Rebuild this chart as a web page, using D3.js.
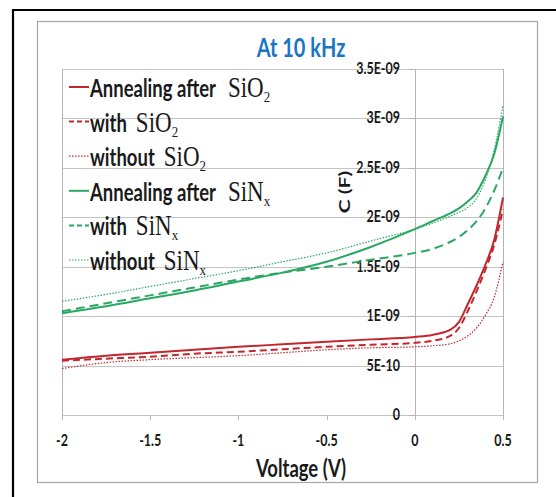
<!DOCTYPE html>
<html><head><meta charset="utf-8">
<script src="https://cdn.jsdelivr.net/npm/d3@7"></script>
<style>html,body{margin:0;padding:0;background:#fff;}svg{display:block;}</style>
</head><body>
<svg id="c" width="556" height="497"></svg>
<script>
// ---- data (C in units of 1e-9 F) ----
const voltages = [-2,-1.75,-1.5,-1.25,-1,-0.75,-0.5,-0.25,0,0.1,0.2,0.25,0.3,0.35,0.4,0.45,0.5];
const annealSiO2   = [0.56,0.60,0.63,0.66,0.69,0.715,0.74,0.765,0.79,0.81,0.86,0.94,1.12,1.31,1.52,1.77,2.20];
const withSiO2     = [0.55,0.57,0.59,0.62,0.64,0.665,0.69,0.71,0.73,0.75,0.80,0.88,1.05,1.25,1.47,1.72,2.08];
const withoutSiO2  = [0.47,0.53,0.56,0.58,0.60,0.63,0.66,0.68,0.69,0.70,0.72,0.75,0.80,0.88,1.01,1.19,1.55];
const annealSiNx   = [1.03,1.10,1.18,1.26,1.35,1.44,1.55,1.70,1.88,1.96,2.04,2.09,2.16,2.25,2.42,2.64,3.02];
const withSiNx     = [1.05,1.13,1.21,1.29,1.37,1.44,1.50,1.57,1.64,1.68,1.75,1.80,1.87,1.96,2.09,2.27,2.50];
const withoutSiNx  = [1.15,1.22,1.30,1.38,1.46,1.55,1.64,1.76,1.88,1.94,2.01,2.05,2.10,2.19,2.38,2.68,3.13];
const xTicks = [-2,-1.5,-1,-0.5,0,0.5];
const xTickLabels = ["-2","-1.5","-1","-0.5","0","0.5"];
const yTicks = [0,0.5e-9,1e-9,1.5e-9,2e-9,2.5e-9,3e-9,3.5e-9];
const yTickLabels = ["0","5E-10","1E-09","1.5E-09","2E-09","2.5E-09","3E-09","3.5E-09"];
const legendMain = ["Annealing after","with","without","Annealing after","with","without"];
const legendChem = ["SiO","SiO","SiO","SiN","SiN","SiN"];
const legendSub  = ["2","2","2","x","x","x"];
const titleText = "At 10 kHz", xTitle = "Voltage (V)", yTitle = "C (F)";

const RED = "#c1272d", GREEN = "#2aa862";
const series = [
  {vals: annealSiO2, color: RED, dash: null, w: 2},
  {vals: withSiO2, color: RED, dash: "7,4", w: 2},
  {vals: withoutSiO2, color: RED, dash: "1.5,1.5", w: 1.2},
  {vals: annealSiNx, color: GREEN, dash: null, w: 2},
  {vals: withSiNx, color: GREEN, dash: "9,5", w: 2},
  {vals: withoutSiNx, color: GREEN, dash: "1.5,1.5", w: 1.2}
];

const svg = d3.select("#c");
const SANS = "Lato, 'Open Sans', sans-serif";
const SERIF = "'Liberation Serif', 'DejaVu Serif', serif";
const SY = 1.32; // vertical stretch of the original picture

// frames
svg.append("line").attr("x1",12).attr("x2",556).attr("y1",10).attr("y2",10).attr("stroke","#000").attr("stroke-width",2.2);
svg.append("line").attr("x1",13).attr("x2",13).attr("y1",9).attr("y2",497).attr("stroke","#000").attr("stroke-width",2.2);
svg.append("rect").attr("x",37.5).attr("y",21.5).attr("width",500).attr("height",461).attr("fill","none").attr("stroke","#a6a6a6").attr("stroke-width",1.2);

const x = d3.scaleLinear().domain([-2,0.5]).range([62,503]);
const y = d3.scaleLinear().domain([0,3.5e-9]).range([415,69]);

function stext(g, txt, px, py, size, opts={}){
  const t = g.append("text")
    .attr("transform",`translate(${px},${py}) ${opts.rot?`rotate(${opts.rot}) scale(${SY},1)`:`scale(1,${opts.sy||SY})`}`)
    .attr("font-family", opts.family||SANS).attr("font-weight", opts.weight||"bold")
    .attr("font-size", size).attr("fill", opts.fill||"#1a1a1a")
    .attr("text-anchor", opts.anchor||"start").text(txt);
  return t;
}

// grid
const grid = svg.append("g");
grid.selectAll("line.h").data(yTicks).join("line")
  .attr("x1",x(-2)).attr("x2",x(0.5)).attr("y1",d=>Math.round(y(d))+0.5).attr("y2",d=>Math.round(y(d))+0.5)
  .attr("stroke","#c4c4c4").attr("stroke-width",1);
[-2,0.5].forEach(v=>grid.append("line").attr("x1",Math.round(x(v))+0.5).attr("x2",Math.round(x(v))+0.5)
  .attr("y1",y(3.5e-9)).attr("y2",y(0)).attr("stroke","#b4b4b4").attr("stroke-width",1));
grid.append("line").attr("x1",Math.round(x(0))+0.5).attr("x2",Math.round(x(0))+0.5)
  .attr("y1",y(3.5e-9)).attr("y2",y(0)+2).attr("stroke","#b4b4b4").attr("stroke-width",1);
grid.selectAll("line.yt").data(yTicks).join("line")
  .attr("x1",x(0)-6).attr("x2",x(0)).attr("y1",d=>Math.round(y(d))+0.5).attr("y2",d=>Math.round(y(d))+0.5)
  .attr("stroke","#b4b4b4");
grid.selectAll("line.xt").data(xTicks).join("line")
  .attr("x1",d=>Math.round(x(d))+0.5).attr("x2",d=>Math.round(x(d))+0.5)
  .attr("y1",y(0)).attr("y2",y(0)+5).attr("stroke","#b4b4b4");

// tick labels
const lab = svg.append("g");
yTicks.forEach((v,i)=>stext(lab, yTickLabels[i], 400, y(v)+5, 12.5, {anchor:"end"}));
xTicks.forEach((v,i)=>stext(lab, xTickLabels[i], x(v), 446, 12.5, {anchor:"middle"}));

// axis titles
stext(svg, xTitle, 301, 477, 18.5, {anchor:"middle"});
stext(svg, yTitle, 350, 192, 16, {anchor:"middle", rot:-90});
stext(svg, titleText, 301, 57, 20, {anchor:"middle", fill:"#1b76c2"});

// series
const line = d3.line().x((d,i)=>x(voltages[i])).y(d=>y(d*1e-9)).curve(d3.curveMonotoneX);
const sg = svg.append("g");
series.forEach(s=>{
  sg.append("path").datum(s.vals).attr("d",line).attr("fill","none")
    .attr("stroke",s.color).attr("stroke-width",s.w)
    .attr("stroke-dasharray",s.dash).attr("stroke-linejoin","round");
});

// legend
const lg = svg.append("g");
const baseY = 97, step = 34.6;
series.forEach((s,i)=>{
  const by = baseY + i*step;
  lg.append("line").attr("x1",69).attr("x2",89).attr("y1",by-10).attr("y2",by-10)
    .attr("stroke",s.color).attr("stroke-width",s.w).attr("stroke-dasharray", s.dash ? (s.dash==="1.5,1.5"?"1.5,1.5":"5,3") : null);
  const t = stext(lg, legendMain[i], 90, by, 18.5);
  const w = t.node().getComputedTextLength();
  const gap = i%3===0 ? 12 : 9;
  const cx = 90 + w + gap;
  const c = stext(lg, legendChem[i], cx, by, 23, {family:SERIF, weight:"normal"});
  const cw = c.node().getComputedTextLength();
  stext(lg, legendSub[i], cx+cw, by+5, 13, {family:SERIF, weight:"normal", sy:1.2});
});
</script>
</body></html>
